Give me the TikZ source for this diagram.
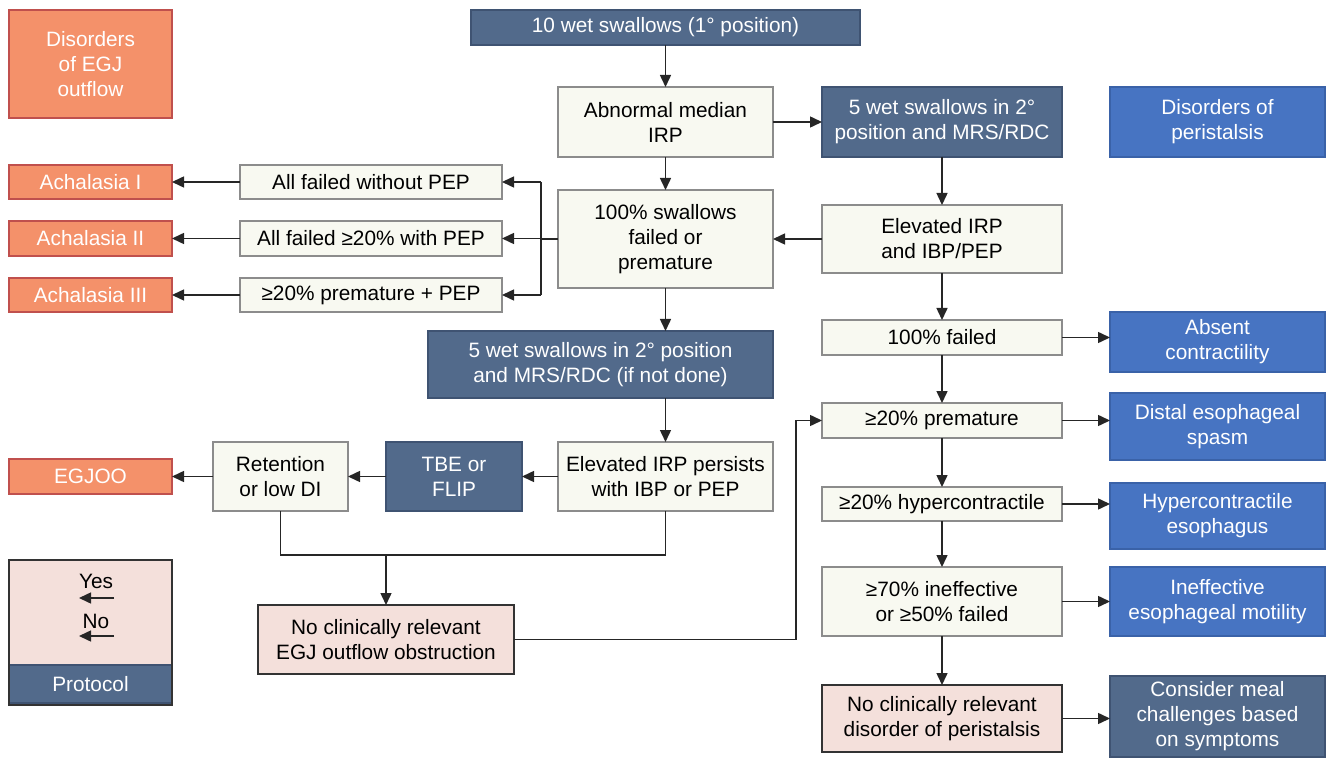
\documentclass[tikz,border=0pt]{standalone}
\usepackage{fontspec}
\setmainfont{Liberation Sans}
\usetikzlibrary{arrows.meta,calc}
\definecolor{orfill}{HTML}{F4916A}
\definecolor{ordraw}{HTML}{C0504D}
\definecolor{prfill}{HTML}{526A8B}
\definecolor{prdraw}{HTML}{3F5372}
\definecolor{blfill}{HTML}{4774C2}
\definecolor{bldraw}{HTML}{3A62A8}
\definecolor{crfill}{HTML}{F8F9F1}
\definecolor{crdraw}{HTML}{8C8C8C}
\definecolor{pkfill}{HTML}{F4E0DB}
\newcommand\mybox[7]{\node[#2, minimum width={(#5-#3)*1pt}, minimum height={(#6-#4)*1pt}] (#1) at ({(#3+#5)/2},{(#4+#6)/2}) {#7};}
\tikzset{
  base/.style={inner sep=0pt, outer sep=0pt, line width=1.3pt, align=center, font=\fontsize{20.8}{25}\selectfont},
  orbox/.style={base, fill=orfill, draw=ordraw, text=white},
  prbox/.style={base, fill=prfill, draw=prdraw, text=white},
  blbox/.style={base, fill=blfill, draw=bldraw, text=white},
  crbox/.style={base, fill=crfill, draw=crdraw, text=black},
  pkbox/.style={base, fill=pkfill, draw=black!80, text=black},
  conn/.style={line width=1.5pt, black!85},
  arr/.style={conn, -{Triangle[length=12pt,width=11pt]}}
}
\begin{document}
\begin{tikzpicture}[x=1pt,y=-1pt]
\useasboundingbox (0,0) rectangle (1328,759);
% left column headers and outcomes
\mybox{hegj}{orbox}{9}{10}{172}{118}{Disorders\\of EGJ\\outflow}
\mybox{ach1}{orbox}{9}{165}{172}{199}{Achalasia I}
\mybox{ach2}{orbox}{9}{221}{172}{256}{Achalasia II}
\mybox{ach3}{orbox}{9}{278}{172}{312}{Achalasia III}
\mybox{egjoo}{orbox}{9}{459}{172}{494}{EGJOO}
% criteria
\mybox{f1}{crbox}{240}{165}{502}{199}{All failed without PEP}
\mybox{f2}{crbox}{240}{221}{502}{256}{All failed ≥20\% with PEP}
\mybox{f3}{crbox}{240}{278}{502}{312}{≥20\% premature + PEP}
% center column
\mybox{top}{prbox}{471}{10}{860}{45}{10 wet swallows (1° position)}
\mybox{abn}{crbox}{558}{87}{773}{157}{Abnormal median\\IRP}
\mybox{sw}{crbox}{558}{190}{773}{288}{100\% swallows\\failed or\\premature}
\mybox{wet2}{prbox}{428}{331}{773}{398}{5 wet swallows in 2° position\\and MRS/RDC (if not done)}
\mybox{pers}{crbox}{558}{442}{773}{511}{Elevated IRP persists\\with IBP or PEP}
\mybox{tbe}{prbox}{386}{442}{522}{511}{TBE or\\FLIP}
\mybox{ret}{crbox}{213}{442}{348}{511}{Retention\\or low DI}
\mybox{noegj}{pkbox}{258}{605}{514}{674}{No clinically relevant\\EGJ outflow obstruction}
% right column
\mybox{wet1}{prbox}{822}{87}{1062}{157}{5 wet swallows in 2°\\position and MRS/RDC}
\mybox{eirp}{crbox}{822}{205}{1062}{273}{Elevated IRP\\and IBP/PEP}
\mybox{fail}{crbox}{822}{320}{1062}{355}{100\% failed}
\mybox{prem}{crbox}{822}{403}{1062}{438}{≥20\% premature}
\mybox{hyp}{crbox}{822}{487}{1062}{521}{≥20\% hypercontractile}
\mybox{ineff}{crbox}{822}{567}{1062}{636}{≥70\% ineffective\\or ≥50\% failed}
\mybox{noper}{pkbox}{822}{685}{1062}{752}{No clinically relevant\\disorder of peristalsis}
% outcomes right
\mybox{hper}{blbox}{1110}{87}{1325}{157}{Disorders of\\peristalsis}
\mybox{absent}{blbox}{1110}{312}{1325}{372}{Absent\\contractility}
\mybox{des}{blbox}{1110}{393}{1325}{460}{Distal esophageal\\spasm}
\mybox{hce}{blbox}{1110}{483}{1325}{549}{Hypercontractile\\esophagus}
\mybox{iem}{blbox}{1110}{567}{1325}{636}{Ineffective\\esophageal motility}
\mybox{meal}{prbox}{1110}{676}{1325}{757}{Consider meal\\challenges based\\on symptoms}
% legend
\mybox{leg}{pkbox}{9}{560}{172}{705}{}
\mybox{legp}{prbox}{9}{665}{172}{703}{Protocol}
\draw[line width=1.3pt, black!80] (9,560) rectangle (172,705);
\node[base, text=black] (yes) at (96,581) {Yes};
\node[base, text=black] (no) at (96,621) {No};
\coordinate (ya) at (114,598); \coordinate (yb) at (79,598);
\coordinate (na) at (114,636); \coordinate (nb) at (79,636);
\draw[arr] (ya) -- (yb);
\draw[arr] (na) -- (nb);
% connectors center
\draw[arr] (top) -- (abn);
\draw[arr] (abn) -- (wet1);
\draw[arr] (abn) -- (sw);
\draw[arr] (sw.south) -- (sw.south |- wet2.north);
\draw[arr] (pers.north |- wet2.south) -- (pers.north);
\draw[arr] (pers) -- (tbe);
\draw[arr] (tbe) -- (ret);
\draw[arr] (ret.west) -- (ret.west -| egjoo.east);
\coordinate (bx) at (541,0);
\draw[conn] (sw.west) -- (bx |- sw.west);
\draw[conn] (bx |- f1.east) -- (bx |- f3.east);
\draw[arr] (bx |- f1.east) -- (f1.east);
\draw[arr] (bx |- f2.east) -- (f2.east);
\draw[arr] (bx |- f3.east) -- (f3.east);
\draw[arr] (f1) -- (f1 -| ach1.east);
\draw[arr] (f2) -- (f2 -| ach2.east);
\draw[arr] (f3) -- (f3 -| ach3.east);
\coordinate (j) at (386,555);
\draw[conn] (ret.south) |- (j) -| (pers.south);
\draw[arr] (j) -- (noegj.north);
\coordinate (k) at (796,0);
\draw[arr] (noegj.east) -| (k |- prem.west) -- (prem.west);
% connectors right
\draw[arr] (wet1) -- (eirp);
\draw[arr] (eirp) -- (sw);
\draw[arr] (eirp) -- (fail);
\draw[arr] (fail) -- (prem);
\draw[arr] (prem) -- (hyp);
\draw[arr] (hyp) -- (ineff);
\draw[arr] (ineff) -- (noper);
\draw[arr] (fail.east) -- (fail.east -| absent.west);
\draw[arr] (prem.east) -- (prem.east -| des.west);
\draw[arr] (hyp.east) -- (hyp.east -| hce.west);
\draw[arr] (ineff.east) -- (ineff.east -| iem.west);
\draw[arr] (noper.east) -- (noper.east -| meal.west);
\end{tikzpicture}
\end{document}
